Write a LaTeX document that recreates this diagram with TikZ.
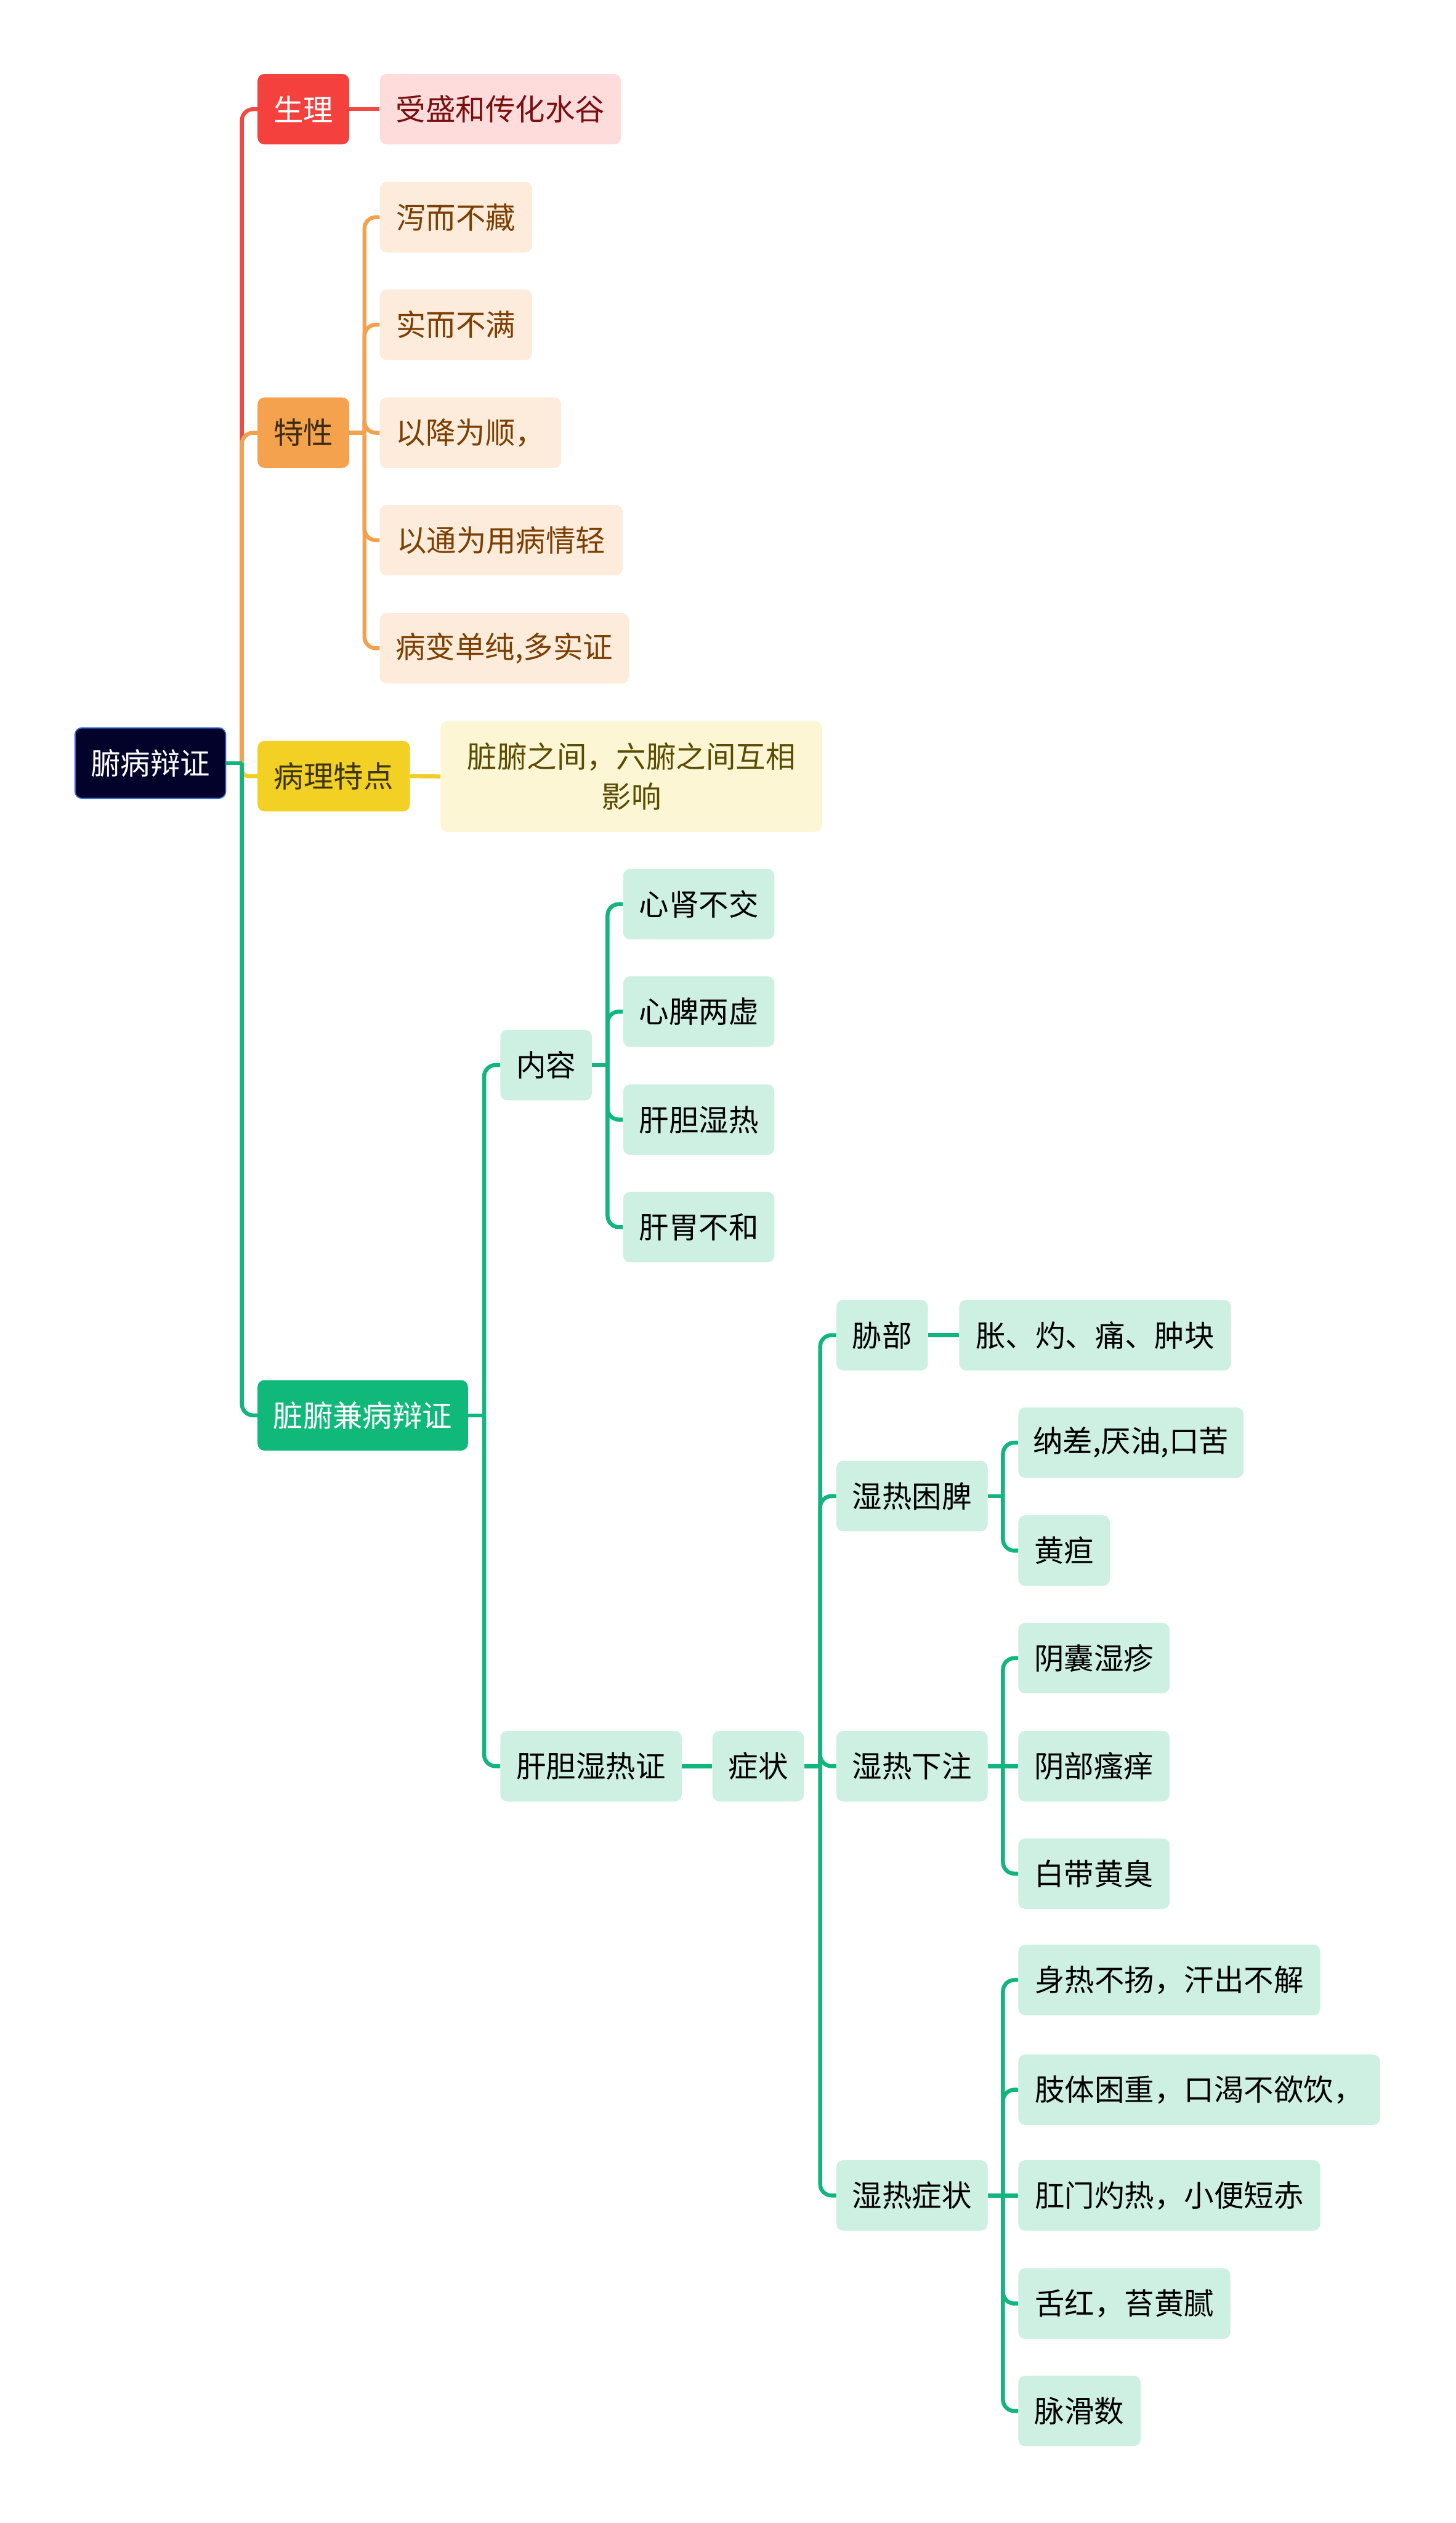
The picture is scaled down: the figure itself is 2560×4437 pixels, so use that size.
\documentclass[tikz,border=0pt]{standalone}
\usepackage{fontspec}
\setmainfont{Noto Sans CJK SC}
\usetikzlibrary{calc}
\definecolor{rootfill}{HTML}{02022A}
\definecolor{rootborder}{HTML}{3A6FD5}
\definecolor{redfill}{HTML}{F5413D}
\definecolor{redlight}{HTML}{FDDCDB}
\definecolor{redtext}{HTML}{7A0F0F}
\definecolor{redline}{HTML}{F04A42}
\definecolor{orafill}{HTML}{F4A24E}
\definecolor{oralight}{HTML}{FDEBDC}
\definecolor{oratext}{HTML}{7B3F00}
\definecolor{oradark}{HTML}{3D2B14}
\definecolor{oraline}{HTML}{F2A14F}
\definecolor{yelfill}{HTML}{F2D124}
\definecolor{yellight}{HTML}{FCF6D4}
\definecolor{yeltext}{HTML}{5B4B00}
\definecolor{yeldark}{HTML}{3C3510}
\definecolor{yelline}{HTML}{F0CE22}
\definecolor{grnfill}{HTML}{10B97A}
\definecolor{grnlight}{HTML}{CDF0E2}
\definecolor{grnline}{HTML}{12B57C}
\newcommand\mmfont{\fontsize{26.25pt}{35.5pt}\selectfont}
\newcommand\mmconn[3]{%
  \draw[#1] (#2.east) -- ($(#2.east)!0.5!(#2.east -| #3.west)$);
  \draw[#1] ($(#2.east)!0.5!(#2.east -| #3.west)$) |- (#3.west);}
\tikzset{
  box/.style={rounded corners=6pt, inner sep=0pt, minimum height=62pt, align=center, font=\mmfont},
  rootbox/.style={box, fill=rootfill, draw=rootborder, line width=1pt, text=white},
  redmain/.style={box, fill=redfill, text=white},
  redsub/.style={box, fill=redlight, text=redtext},
  oramain/.style={box, fill=orafill, text=oradark},
  orasub/.style={box, fill=oralight, text=oratext},
  yelmain/.style={box, fill=yelfill, text=yeldark},
  yelsub/.style={box, fill=yellight, text=yeltext},
  grnmain/.style={box, fill=grnfill, text=white},
  grnsub/.style={box, fill=grnlight, text=black},
  conn/.style={line width=3.5pt, rounded corners=10pt},
  redc/.style={conn, draw=redline},
  orac/.style={conn, draw=oraline},
  yelc/.style={conn, draw=yelline, rounded corners=6pt},
  grnc/.style={conn, draw=grnline},
}
\begin{document}
\begin{tikzpicture}[x=0.5pt, y=-0.5pt]
\useasboundingbox (0,0) rectangle (2560,4437);
% root
\node[rootbox, minimum width=132.5pt] (root) at (264.5,1342) {腑病辩证};
% red branch
\node[redmain, minimum width=80.5pt] (shengli) at (533.5,192) {生理};
\node[redsub, minimum width=212pt] (shengliA) at (880,192) {受盛和传化水谷};
% orange branch
\node[oramain, minimum width=80.5pt] (texing) at (533.5,761) {特性};
\node[orasub, minimum width=134pt] (t1) at (802,382) {泻而不藏};
\node[orasub, minimum width=134pt] (t2) at (802,571) {实而不满};
\node[orasub, minimum width=159.5pt] (t3) at (827.5,761) {以降为顺，};
\node[orasub, minimum width=213.5pt] (t4) at (881.5,950) {以通为用病情轻};
\node[orasub, minimum width=219pt] (t5) at (887,1140) {病变单纯,多实证};
% yellow branch
\node[yelmain, minimum width=134pt] (bingli) at (587,1365) {病理特点};
\node[yelsub, minimum width=335.5pt, minimum height=97.5pt] (bingliA) at (1110.5,1365.5) {脏腑之间，六腑之间互相\\影响};
% green branch
\node[grnmain, minimum width=185pt] (zangfu) at (638,2489) {脏腑兼病辩证};
\node[grnsub, minimum width=80.5pt] (neirong) at (960.5,1873) {内容};
\node[grnsub, minimum width=133pt] (n1) at (1229,1590) {心肾不交};
\node[grnsub, minimum width=133pt] (n2) at (1229,1779) {心脾两虚};
\node[grnsub, minimum width=133pt] (n3) at (1229,1969) {肝胆湿热};
\node[grnsub, minimum width=133pt] (n4) at (1229,2158) {肝胃不和};
\node[grnsub, minimum width=159.5pt] (gandan) at (1039.5,3106) {肝胆湿热证};
\node[grnsub, minimum width=80.5pt] (zz) at (1333.5,3106) {症状};
\node[grnsub, minimum width=80.5pt] (xie) at (1551.5,2348) {胁部};
\node[grnsub, minimum width=239pt] (xieA) at (1926,2348) {胀、灼、痛、肿块};
\node[grnsub, minimum width=133pt] (kunpi) at (1604,2631) {湿热困脾};
\node[grnsub, minimum width=198pt] (k1) at (1989,2537) {纳差,厌油,口苦};
\node[grnsub, minimum width=80.5pt] (k2) at (1871.5,2727) {黄疸};
\node[grnsub, minimum width=133pt] (xiazhu) at (1604,3106) {湿热下注};
\node[grnsub, minimum width=133pt] (x1) at (1924,2916) {阴囊湿疹};
\node[grnsub, minimum width=133pt] (x2) at (1924,3106) {阴部瘙痒};
\node[grnsub, minimum width=133pt] (x3) at (1924,3295) {白带黄臭};
\node[grnsub, minimum width=133pt] (shizheng) at (1604,3861) {湿热症状};
\node[grnsub, minimum width=265.5pt] (s1) at (2056.5,3482) {身热不扬，汗出不解};
\node[grnsub, minimum width=318pt] (s2) at (2109,3675) {肢体困重，口渴不欲饮，};
\node[grnsub, minimum width=265.5pt] (s3) at (2056.5,3861) {肛门灼热，小便短赤};
\node[grnsub, minimum width=186.5pt] (s4) at (1977.5,4051) {舌红，苔黄腻};
\node[grnsub, minimum width=107.5pt] (s5) at (1898.5,4240) {脉滑数};
% connectors
\mmconn{redc}{root}{shengli}
\draw[redc] (shengli.east) -- (shengliA.west);
\mmconn{orac}{root}{texing}
\foreach \c in {t1,t2,t3,t4,t5} {\mmconn{orac}{texing}{\c}}
\mmconn{yelc}{root}{bingli}
\draw[yelc] (bingli.east) -- (bingliA.west);
\mmconn{grnc}{root}{zangfu}
\mmconn{grnc}{zangfu}{neirong}
\mmconn{grnc}{zangfu}{gandan}
\foreach \c in {n1,n2,n3,n4} {\mmconn{grnc}{neirong}{\c}}
\draw[grnc] (gandan.east) -- (zz.west);
\foreach \c in {xie,kunpi,xiazhu,shizheng} {\mmconn{grnc}{zz}{\c}}
\draw[grnc] (xie.east) -- (xieA.west);
\foreach \c in {k1,k2} {\mmconn{grnc}{kunpi}{\c}}
\foreach \c in {x1,x3} {\mmconn{grnc}{xiazhu}{\c}}
\draw[grnc] (xiazhu.east) -- (x2.west);
\foreach \c in {s1,s2,s4,s5} {\mmconn{grnc}{shizheng}{\c}}
\draw[grnc] (shizheng.east) -- (s3.west);
\end{tikzpicture}
\end{document}
